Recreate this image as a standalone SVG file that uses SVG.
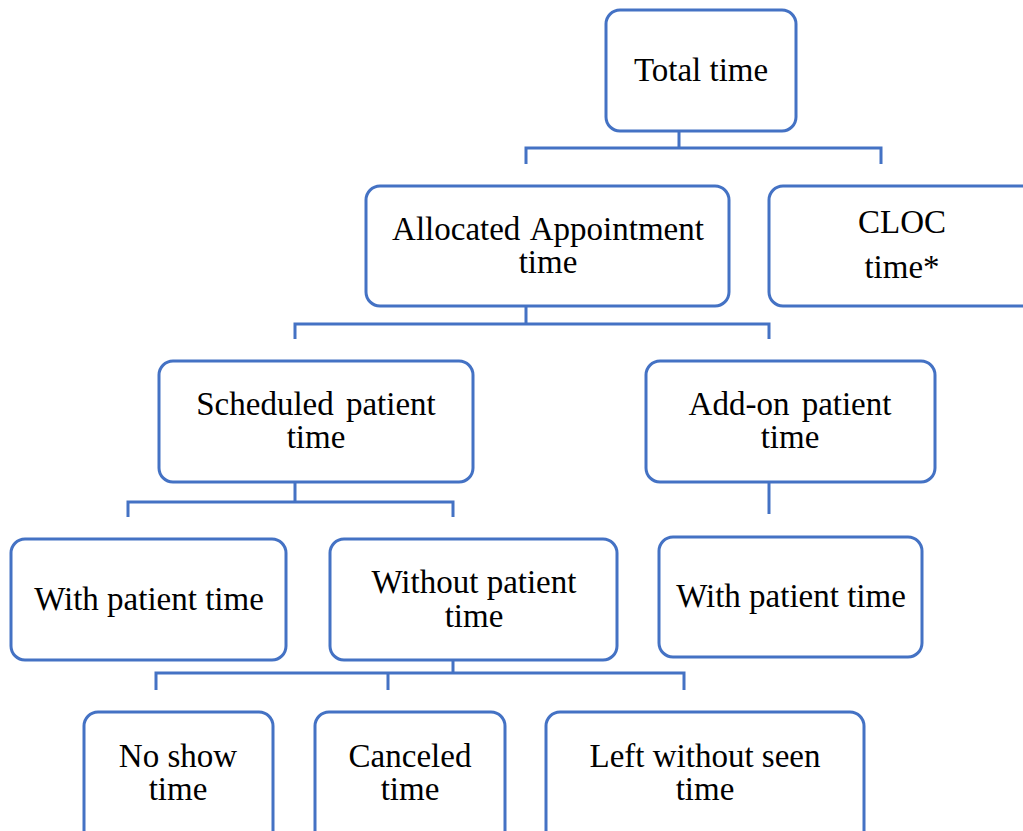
<svg xmlns="http://www.w3.org/2000/svg" width="1023" height="831" viewBox="0 0 1023 831">
<style>
.box{fill:#fff;stroke:#4472C4;stroke-width:3}
.lbl{font-family:"Liberation Serif","Times New Roman",serif;font-size:33px;fill:#000;text-anchor:middle}
.con{fill:none;stroke:#4472C4;stroke-width:3}
</style>
<rect width="1023" height="831" fill="#fff"/>
<g id="connectors">
<path class="con" d="M679 131V148M526 164V148H881V164"/>
<path class="con" d="M526 306V324M295 339V324H769V339"/>
<path class="con" d="M295 482V502M128 517V502H453V517"/>
<path class="con" d="M769 482V514"/>
<path class="con" d="M453 660V673M156 690V673H684V690M388 673V690"/>
</g>
<g id="total"><rect class="box" x="606" y="10" width="190" height="121" rx="14"/><text class="lbl" x="701" y="81">Total time</text></g>
<g id="allocated"><rect class="box" x="366" y="186" width="363" height="120" rx="14"/><text class="lbl" x="548" y="240" word-spacing="3">Allocated Appointment</text><text class="lbl" x="548" y="273">time</text></g>
<g id="cloc"><rect class="box" x="769" y="186" width="270" height="120" rx="14"/><text class="lbl" x="902" y="233">CLOC</text><text class="lbl" x="902" y="278">time*</text></g>
<g id="scheduled"><rect class="box" x="159" y="361" width="314" height="121" rx="14"/><text class="lbl" x="316" y="415" word-spacing="4">Scheduled patient</text><text class="lbl" x="316" y="448">time</text></g>
<g id="addon"><rect class="box" x="646" y="361" width="289" height="121" rx="14"/><text class="lbl" x="790" y="415" word-spacing="4">Add-on patient</text><text class="lbl" x="790" y="448">time</text></g>
<g id="with1"><rect class="box" x="11" y="539" width="275" height="121" rx="14"/><text class="lbl" x="149" y="610">With patient time</text></g>
<g id="without"><rect class="box" x="330" y="539" width="287" height="121" rx="14"/><text class="lbl" x="474" y="593">Without patient</text><text class="lbl" x="474" y="627">time</text></g>
<g id="with2"><rect class="box" x="659" y="537" width="263" height="120" rx="14"/><text class="lbl" x="791" y="607">With patient time</text></g>
<g id="noshow"><rect class="box" x="84" y="712" width="189" height="140" rx="14"/><text class="lbl" x="178" y="767">No show</text><text class="lbl" x="178" y="800">time</text></g>
<g id="canceled"><rect class="box" x="315" y="712" width="190" height="140" rx="14"/><text class="lbl" x="410" y="767">Canceled</text><text class="lbl" x="410" y="800">time</text></g>
<g id="left"><rect class="box" x="546" y="712" width="318" height="140" rx="14"/><text class="lbl" x="705" y="767">Left without seen</text><text class="lbl" x="705" y="800">time</text></g>
</svg>
